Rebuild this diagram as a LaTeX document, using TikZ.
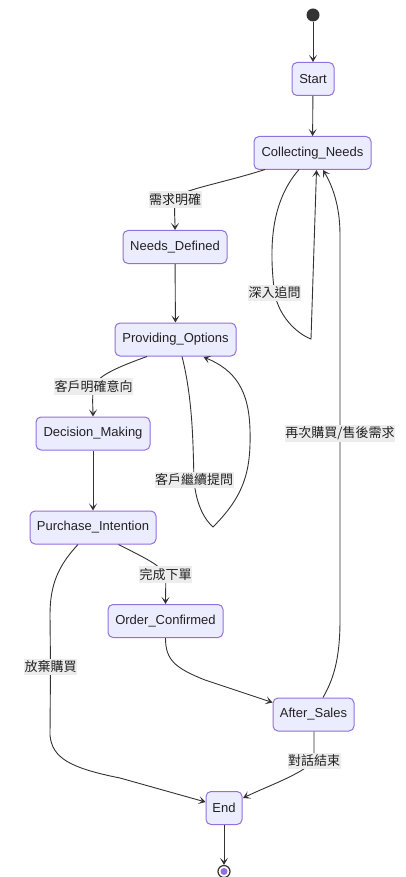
\documentclass[tikz,border=0pt]{standalone}
\usepackage{fontspec}
\setmainfont{Liberation Sans}
\newfontfamily\cjk{Noto Sans CJK TC}
\usetikzlibrary{arrows.meta}
\definecolor{stfill}{HTML}{ECECFF}
\definecolor{stline}{HTML}{9370DB}
\definecolor{edge}{HTML}{333333}
\definecolor{lblbg}{HTML}{EDEDED}
\definecolor{txt}{HTML}{222222}
\begin{document}
\begin{tikzpicture}[x=1pt,y=-1pt,
  state/.style={draw=stline,fill=stfill,line width=1pt,rounded corners=5pt,
    minimum height=33pt,inner sep=0pt,text=txt,font=\fontsize{13}{15}\selectfont},
  elabel/.style={fill=lblbg,inner xsep=0.5pt,inner ysep=2pt,text=txt,
    font=\cjk\fontsize{13}{15}\selectfont},
  tr/.style={draw=edge,line width=0.9pt,-{Stealth[length=7pt,width=8pt,inset=3.5pt]}}]
\useasboundingbox (0,0) rectangle (406,877);
\fill[white] (0,0) rectangle (406,877);

% states
\node[circle,fill=edge,minimum size=13pt,inner sep=0pt] (init) at (313,15) {};
\node[state,minimum width=42pt] (start) at (313,79) {Start};
\node[state,minimum width=117pt] (coll) at (312.5,153) {Collecting\_Needs};
\node[state,minimum width=104pt] (nd) at (175,247) {Needs\_Defined};
\node[state,minimum width=121pt] (po) at (175.5,339.5) {Providing\_Options};
\node[state,minimum width=114pt] (dm) at (93,433.5) {Decision\_Making};
\node[state,minimum width=126pt] (pi) at (93,527.5) {Purchase\_Intention};
\node[state,minimum width=115pt] (oc) at (165.5,621) {Order\_Confirmed};
\node[state,minimum width=81pt] (as) at (313.5,714.5) {After\_Sales};
\node[state,minimum width=36pt] (end) at (224,808) {End};
\node[circle,draw=edge,fill=white,line width=1.2pt,minimum size=12pt,inner sep=0pt] (final) at (224,871.5) {};
\node[circle,fill=stline,minimum size=7pt,inner sep=0pt] at (final) {};

% label anchor points on the transitions
\coordinate (c1) at (175,199.5);
\coordinate (c2) at (274.5,293);
\coordinate (c3) at (340,433.5);
\coordinate (c4) at (93.5,386.5);
\coordinate (c5) at (194,480);
\coordinate (c6) at (165.5,574.5);
\coordinate (c7) at (50.5,667);
\coordinate (c8) at (314,761);

% transitions
\draw[tr] (init) -- (start);
\draw[tr] (start) -- (coll);
\draw[tr] (265,169.5) .. controls (220,184) and (178,190) .. (c1)
  .. controls (174,210) and (175,218) .. (nd.north);
\draw[tr] (299,169.5) .. controls (268,205) and (270,255) .. (c2)
  .. controls (280,320) and (300,335) .. (311,339) -- (316.5,170);
\draw[tr] (as.north -| 323,0) .. controls (333,680) and (340,660) .. (340,620)
  -- (c3) -- (340,235) .. controls (340,205) and (332,185) .. (323,170);
\draw[tr] (nd) -- (po);
\draw[tr] (147,356.5) .. controls (115,368) and (98,376) .. (c4)
  .. controls (92,400) and (93,408) .. (dm.north);
\draw[tr] (182,356.5) .. controls (193,400) and (193,445) .. (c5)
  .. controls (196,505) and (205,520) .. (213,527)
  .. controls (245,495) and (251,470) .. (250,430)
  .. controls (249,390) and (235,370) .. (203.5,357);
\draw[tr] (dm) -- (pi);
\draw[tr] (118.5,544.5) .. controls (145,558) and (160,565) .. (c6)
  .. controls (166,585) and (165.5,595) .. (oc.north);
\draw[tr] (78,544.5) .. controls (58,566) and (50,585) .. (50,615)
  -- (c7) -- (50,735) .. controls (52,758) and (70,768) .. (120,778) -- (end.west |- 0,802);
\draw[tr] (oc.south) .. controls (165.5,660) and (175,668) .. (205,680) -- (as.west |- 0,702.5);
\draw[tr] (as.south -| 314,0) .. controls (314,745) and (314,752) .. (c8)
  .. controls (300,775) and (270,785) .. (243,798);
\draw[tr] (end) -- (final);

% transition labels
\node[elabel] (l1) at (c1) {需求明確};
\node[elabel] (l2) at (c2) {深入追問};
\node[elabel] (l3) at (c3) {再次購買/售後需求};
\node[elabel] (l4) at (c4) {客戶明確意向};
\node[elabel] (l5) at (c5) {客戶繼續提問};
\node[elabel] (l6) at (c6) {完成下單};
\node[elabel] (l7) at (c7) {放棄購買};
\node[elabel] (l8) at (c8) {對話結束};
\end{tikzpicture}
\end{document}
